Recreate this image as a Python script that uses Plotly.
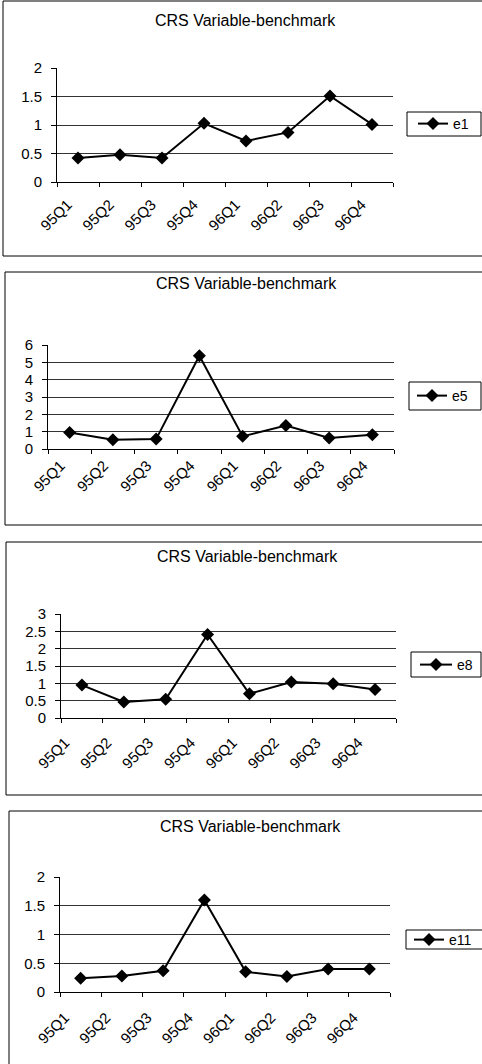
import plotly.graph_objects as go

W, H = 482, 1064

# ---------------- data ----------------
quarters = ["95Q1", "95Q2", "95Q3", "95Q4", "96Q1", "96Q2", "96Q3", "96Q4"]
series_names = ["e1", "e5", "e8", "e11"]
e1 = [0.42, 0.48, 0.42, 1.03, 0.72, 0.87, 1.51, 1.01]
e5 = [0.95, 0.54, 0.57, 5.38, 0.73, 1.36, 0.63, 0.82]
e8 = [0.95, 0.46, 0.54, 2.41, 0.70, 1.04, 0.99, 0.82]
e11 = [0.24, 0.28, 0.37, 1.60, 0.35, 0.27, 0.40, 0.40]
series_values = [e1, e5, e8, e11]
y_max = [2, 6, 3, 2]
y_step = [0.5, 1, 0.5, 0.5]
chart_title = "CRS Variable-benchmark"

# ---------------- layout geometry (pixels) ----------------
plot_boxes = [(57, 393, 68, 182), (48, 394, 345, 449), (61, 396, 614, 718), (60, 390, 877, 992)]
frames = [(3, 1, 256), (5, 272, 525), (6, 542, 795), (9, 811, 1080)]
title_pos = [(245, 20), (247, 283), (248, 556), (250, 826)]
legend_item = [(413, 124, 30), (412, 396, 30), (415, 665, 32), (409, 940, 30)]
legend_box = [(407, 481, 112, 136), (409, 481, 382, 410), (411, 481, 652, 677), (406, 500, 930, 949)]
label_shift = [0.25, 0.21, 0.40, 0.38]      # category-widths the tick labels sit left
label_standoff = [10, 4, 12, 13]

FONT = "Liberation Sans, Arial, sans-serif"


def fx(x):
    return x / W


def fy(y):
    return 1 - y / H


fig = go.Figure()
shapes = []
annotations = []
layout_extra = {}
n = len(quarters)

for i, (name, vals) in enumerate(zip(series_names, series_values)):
    sfx = "" if i == 0 else str(i + 1)
    lab = str(i + 5)
    leg = "legend" if i == 0 else f"legend{i + 1}"
    fig.add_trace(go.Scatter(
        x=quarters, y=vals, name=name, mode="lines+markers",
        xaxis="x" + sfx, yaxis="y" + sfx, legend=leg, showlegend=True,
        line=dict(color="black", width=2),
        marker=dict(symbol="diamond", size=10, color="black"),
    ))
    # empty carrier so the tick-label axis is built
    fig.add_trace(go.Scatter(x=[], y=[], xaxis="x" + lab, yaxis="y" + sfx,
                             showlegend=False, hoverinfo="skip"))
    x0, x1, y0, y1 = plot_boxes[i]
    layout_extra["xaxis" + sfx] = dict(
        domain=[fx(x0), fx(x1)], anchor="y" + sfx, type="category",
        range=[-0.5, n - 0.5], tickson="boundaries",
        ticks="outside", ticklen=4, tickcolor="black", tickwidth=1,
        showline=True, linecolor="black", linewidth=1, showgrid=False,
        showticklabels=False, fixedrange=True, automargin=False,
    )
    d = label_shift[i]
    layout_extra["xaxis" + lab] = dict(
        domain=[fx(x0), fx(x1)], anchor="y" + sfx, overlaying="x" + sfx,
        type="linear", range=[-0.5 + d, n - 0.5 + d],
        tickmode="array", tickvals=list(range(n)), ticktext=quarters,
        ticks="", showline=False, showgrid=False, zeroline=False,
        tickangle=-45, tickfont=dict(family=FONT, size=15, color="black"),
        ticklabelstandoff=label_standoff[i], fixedrange=True, automargin=False,
    )
    layout_extra["yaxis" + sfx] = dict(
        domain=[fy(y1), fy(y0)], anchor="x" + sfx,
        range=[0, y_max[i]], tick0=0, dtick=y_step[i],
        showgrid=True, gridcolor="#333333", gridwidth=1, zeroline=False,
        showline=True, linecolor="black", linewidth=1,
        ticks="outside", ticklen=5, tickcolor="black",
        tickfont=dict(family=FONT, size=15, color="black"),
        ticklabelstandoff=6, fixedrange=True, automargin=False,
    )
    lx, ly, iw = legend_item[i]
    layout_extra[leg] = dict(
        x=fx(lx), y=fy(ly), xanchor="left", yanchor="middle",
        borderwidth=0, bgcolor="rgba(0,0,0,0)",
        font=dict(family=FONT, size=14, color="black"),
        itemwidth=iw, tracegroupgap=0,
    )
    bx0, bx1, by0, by1 = legend_box[i]
    shapes.append(dict(type="rect", xref="paper", yref="paper",
                       x0=fx(bx0), x1=fx(bx1), y0=fy(by1), y1=fy(by0),
                       line=dict(color="black", width=1), layer="below"))
    fl, ft, fb = frames[i]
    shapes.append(dict(type="rect", xref="paper", yref="paper",
                       x0=fx(fl), x1=1.05, y0=fy(fb), y1=fy(ft),
                       line=dict(color="black", width=1)))
    tx, ty = title_pos[i]
    annotations.append(dict(text=chart_title, x=fx(tx), y=fy(ty), xref="paper", yref="paper",
                            xanchor="center", yanchor="middle", showarrow=False,
                            font=dict(family=FONT, size=16, color="black")))

fig.update_layout(
    width=W, autosize=True,
    margin=dict(l=0, r=0, t=0, b=0, autoexpand=False),
    paper_bgcolor="white", plot_bgcolor="white",
    shapes=shapes, annotations=annotations,
    font=dict(family=FONT, color="black"),
    **layout_extra,
)

fig.write_html(
    "out.html",
    config={"displayModeBar": False},
    default_height=f"{H}px; position:absolute; left:0; top:0",
)
